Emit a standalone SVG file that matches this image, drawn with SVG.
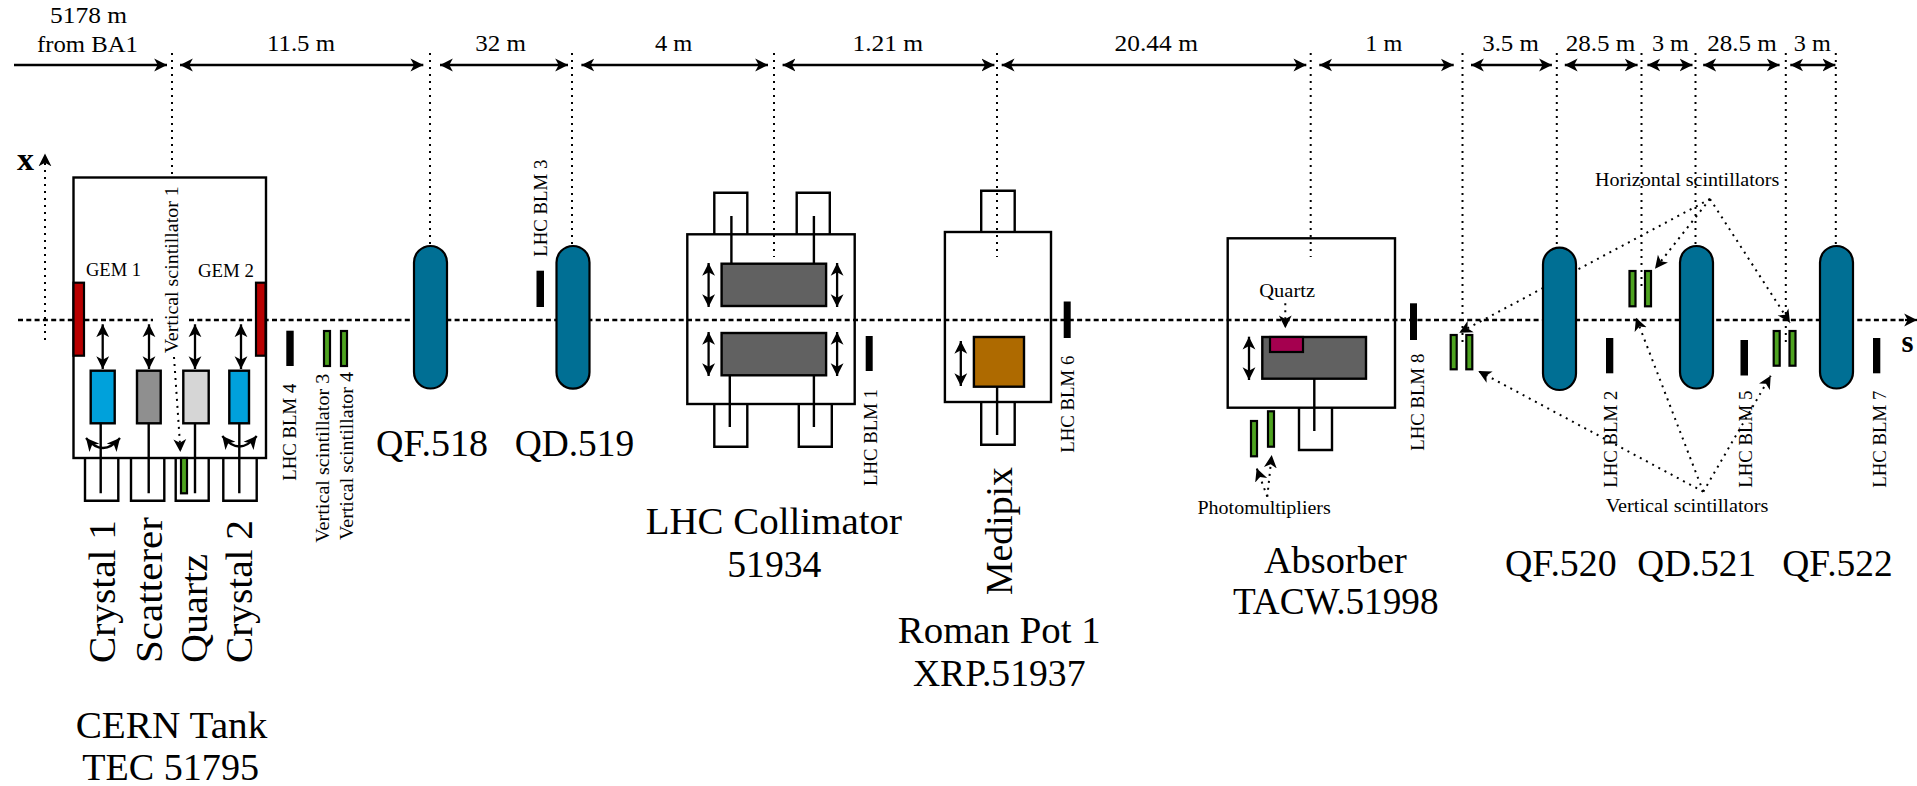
<svg xmlns="http://www.w3.org/2000/svg" width="1917" height="786" viewBox="0 0 1917 786">
<style>
text{font-family:"Liberation Serif","Times New Roman",serif;fill:#000}
.d{font-size:23px}.b{font-size:37px}.s{font-size:18px}.a{font-size:32px;font-weight:bold}
.l{fill:none;stroke:#000;stroke-width:2.3}
.o{fill:none;stroke:#000;stroke-width:2.4}
.t{fill:none;stroke:#000;stroke-width:2;stroke-dasharray:2 5}
.bm{fill:none;stroke:#000;stroke-width:2.3;stroke-dasharray:5 3.3}
.p{fill:#006f94;stroke:#000;stroke-width:2.2}
.g{fill:#4ea320;stroke:#000;stroke-width:2.2}
.k{fill:#000;stroke:none}
.j{fill:#616161;stroke:#000;stroke-width:2.4}
.w{marker-end:url(#h)}.ww{marker-start:url(#h);marker-end:url(#h)}
</style>
<defs>
<marker id="h" markerUnits="userSpaceOnUse" markerWidth="14" markerHeight="14" refX="11" refY="6" orient="auto-start-reverse" viewBox="0 0 12 12"><path d="M11,6 L0,0.5 L3,6 L0,11.5 Z" fill="#000"/></marker>
</defs>
<rect width="1917" height="786" fill="#fff"/>
<g id="connectors">
<path class="bm" d="M18,320H153"/>
<path class="bm" d="M189,320H1906"/>
<path d="M1905,320H1917" class="l w"/>
<path class="t w" d="M45,340V153.5"/>
<g class="t">
<path d="M172,53V177"/><path d="M430,53V246"/><path d="M572,53V246"/><path d="M774,53V257"/><path d="M997,53V257"/><path d="M1310.7,53V257"/><path d="M1462.5,53V343"/><path d="M1556.8,53V246"/><path d="M1641.5,53V286"/><path d="M1695.5,53V246"/><path d="M1785.8,53V343"/><path d="M1835.8,53V246"/>
</g>
<g class="l">
<path class="w" d="M14,65H167"/>
<path class="ww" d="M180,65H423.3"/>
<path class="ww" d="M440,65H568"/>
<path class="ww" d="M581.4,65H768"/>
<path class="ww" d="M782.6,65H994.4"/>
<path class="ww" d="M1001.7,65H1306.3"/>
<path class="ww" d="M1319.3,65H1453.7"/>
<path class="ww" d="M1471,65H1551.9"/>
<path class="ww" d="M1564.8,65H1637.6"/>
<path class="ww" d="M1647.4,65H1692.5"/>
<path class="ww" d="M1703.2,65H1779.6"/>
<path class="ww" d="M1790.3,65H1835.4"/>
<path class="ww" d="M102.7,324.3V369"/><path class="ww" d="M149,324.3V369"/><path class="ww" d="M195,324.3V369"/><path class="ww" d="M241,324.3V369"/>
<path class="ww" d="M86,438Q103,458 120,438"/>
<path class="ww" d="M222.3,436Q239.5,457 256.7,436"/>
<path class="ww" d="M708.6,263V307"/><path class="ww" d="M837.1,263V307"/><path class="ww" d="M708.6,332V376"/><path class="ww" d="M837.1,332V376"/>
<path class="ww" d="M960.8,341V386"/>
<path class="ww" d="M1249,336.7V380"/>
</g>
<g class="t">
<path class="w" d="M174,357L180,444L180.3,452"/>
<path class="w" d="M1285.3,303.3V328.3"/>
<path class="w" d="M1267.3,496.7L1256.7,468.3"/>
<path class="w" d="M1267.3,496.7L1271.7,455"/>
<path class="w" d="M1710,199L1459.3,332.7"/>
<path class="w" d="M1710,199L1655,268.7"/>
<path class="w" d="M1710,199L1790,322.7"/>
<path class="w" d="M1703.3,491.7L1478.3,371"/>
<path class="w" d="M1703.3,491.7L1636,317.7"/>
<path class="w" d="M1703.3,491.7L1770.7,375.7"/>
</g>
</g>
<g id="cern-tank">
<rect class="o" x="73.5" y="177.5" width="192.5" height="280.5"/>
<rect x="73.5" y="282.7" width="10.5" height="73" fill="#b80000" stroke="#000" stroke-width="2.2"/>
<rect x="256" y="282.7" width="9.5" height="73" fill="#b80000" stroke="#000" stroke-width="2.2"/>
<g class="o">
<path d="M100.7,423V493.3M148.7,423V493.3M195,423V493.3M239.3,423V493.3"/>
<path d="M85,458V500.7H118.3V458M131,458V500.7H164.3V458M175.7,458V500.7H208.7V458M223.3,458V500.7H256.7V458"/>
</g>
<rect x="90.7" y="370.7" width="24" height="52.6" fill="#00a1db" stroke="#000" stroke-width="2.4"/>
<rect x="137" y="370.7" width="23.7" height="52.6" fill="#8f8f8f" stroke="#000" stroke-width="2.4"/>
<rect x="183.3" y="370.7" width="25.4" height="52.6" fill="#d6d6d6" stroke="#000" stroke-width="2.4"/>
<rect x="229.3" y="370.7" width="19.7" height="52.6" fill="#00a1db" stroke="#000" stroke-width="2.4"/>
<rect class="g" x="181" y="458" width="6" height="35.3"/>
</g>
<g id="blm4"><rect class="k" x="286.3" y="330.7" width="7.4" height="35.3"/></g>
<g id="vs3"><rect class="g" x="324" y="331" width="6" height="35"/></g>
<g id="vs4"><rect class="g" x="341" y="331" width="6" height="35"/></g>
<g id="qf518"><rect class="p" x="414" y="246" width="33" height="142.5" rx="16.5"/></g>
<g id="blm3"><rect class="k" x="536.5" y="270.7" width="7.5" height="36.3"/></g>
<g id="qd519"><rect class="p" x="556.5" y="246" width="33" height="142.7" rx="16.5"/></g>
<g id="collimator">
<rect class="o" x="687.3" y="234.3" width="167.4" height="169.7"/>
<g class="o">
<path d="M714.3,234V192.7H747.3V234M796.7,234V192.7H829.8V234"/>
<path d="M714.3,404V446.7H747.3V404M798.8,404V446.7H831.8V404"/>
<path d="M731.4,216V263.7M813.9,216V263.7M729.8,375V427M813.9,375V427"/>
</g>
<rect class="j" x="721.6" y="263.7" width="104.5" height="42.3"/>
<rect class="j" x="721.6" y="333" width="104.5" height="42.3"/>
</g>
<g id="blm1"><rect class="k" x="865.7" y="336" width="7" height="35"/></g>
<g id="roman-pot">
<rect class="o" x="944.9" y="232" width="106.1" height="170"/>
<g class="o">
<path d="M981.2,232V190.7H1014.7V232M981.2,402V444.7H1014.7V402"/>
<path d="M997.1,386V435"/>
</g>
<rect x="973.9" y="337" width="50.1" height="49.7" fill="#ae6a00" stroke="#000" stroke-width="2.4"/>
</g>
<g id="blm6"><rect class="k" x="1063.7" y="301.5" width="7" height="36.5"/></g>
<g id="absorber">
<rect class="o" x="1227.7" y="238.3" width="167.3" height="169.4"/>
<path class="o" d="M1314.3,378.7V431M1299,407.7V450H1332V407.7"/>
<rect class="j" x="1262.3" y="337" width="103.7" height="41.7"/>
<rect x="1270" y="337" width="33" height="15" fill="#a5004f" stroke="#000" stroke-width="2.2"/>
<rect class="g" x="1251" y="421" width="6" height="35.3"/>
<rect class="g" x="1268" y="411.3" width="6" height="35.4"/>
</g>
<g id="blm8"><rect class="k" x="1410" y="303.3" width="7" height="36.7"/></g>
<g id="scint-a"><rect class="g" x="1450.7" y="335" width="6" height="34.3"/><rect class="g" x="1466.3" y="335" width="6" height="34.3"/></g>
<g id="qf520"><rect class="p" x="1543" y="247.7" width="33" height="142.3" rx="16.5"/></g>
<g id="blm2"><rect class="k" x="1606" y="338" width="7.3" height="35.3"/></g>
<g id="scint-b"><rect class="g" x="1629.5" y="271" width="6" height="35.3"/><rect class="g" x="1645" y="271" width="6" height="35.3"/></g>
<g id="qd521"><rect class="p" x="1680" y="246" width="33" height="142.5" rx="16.5"/></g>
<g id="blm5"><rect class="k" x="1740.5" y="340" width="7.5" height="35.5"/></g>
<g id="scint-c"><rect class="g" x="1773.7" y="331" width="6" height="34.7"/><rect class="g" x="1789.5" y="331" width="6" height="34.7"/></g>
<g id="qf522"><rect class="p" x="1820" y="246" width="33" height="142.5" rx="16.5"/></g>
<g id="blm7"><rect class="k" x="1873" y="338" width="7.3" height="35.3"/></g>
<g id="labels">
<text class="d" x="50" y="23" textLength="77" lengthAdjust="spacingAndGlyphs">5178 m</text>
<text class="d" x="37" y="52" textLength="101" lengthAdjust="spacingAndGlyphs">from BA1</text>
<text class="d" x="267" y="51" textLength="68" lengthAdjust="spacingAndGlyphs">11.5 m</text>
<text class="d" x="475.3" y="51" textLength="50.7" lengthAdjust="spacingAndGlyphs">32 m</text>
<text class="d" x="655" y="51" textLength="37.4" lengthAdjust="spacingAndGlyphs">4 m</text>
<text class="d" x="852.4" y="51" textLength="70.8" lengthAdjust="spacingAndGlyphs">1.21 m</text>
<text class="d" x="1114.6" y="51" textLength="83.3" lengthAdjust="spacingAndGlyphs">20.44 m</text>
<text class="d" x="1365.3" y="51" textLength="37" lengthAdjust="spacingAndGlyphs">1 m</text>
<text class="d" x="1482.2" y="51" textLength="56.7" lengthAdjust="spacingAndGlyphs">3.5 m</text>
<text class="d" x="1565.7" y="51" textLength="69.7" lengthAdjust="spacingAndGlyphs">28.5 m</text>
<text class="d" x="1651.9" y="51" textLength="37" lengthAdjust="spacingAndGlyphs">3 m</text>
<text class="d" x="1707.2" y="51" textLength="69.7" lengthAdjust="spacingAndGlyphs">28.5 m</text>
<text class="d" x="1793.8" y="51" textLength="37" lengthAdjust="spacingAndGlyphs">3 m</text>
<text class="a" x="17" y="170" textLength="17" lengthAdjust="spacingAndGlyphs">x</text>
<text class="a" x="1901.5" y="351.5" textLength="12" lengthAdjust="spacingAndGlyphs">s</text>
<text class="s" x="86" y="276.3" textLength="55" lengthAdjust="spacingAndGlyphs">GEM 1</text>
<text class="s" x="198" y="277" textLength="56" lengthAdjust="spacingAndGlyphs">GEM 2</text>
<text class="s" transform="translate(178.3 353.3) rotate(-90)" textLength="167" lengthAdjust="spacingAndGlyphs">Vertical scintillator 1</text>
<text class="s" transform="translate(296 480.7) rotate(-90)" textLength="97" lengthAdjust="spacingAndGlyphs">LHC BLM 4</text>
<text class="s" transform="translate(329.3 542.7) rotate(-90)" textLength="169" lengthAdjust="spacingAndGlyphs">Vertical scintillator 3</text>
<text class="s" transform="translate(352.7 540) rotate(-90)" textLength="168" lengthAdjust="spacingAndGlyphs">Vertical scintillator 4</text>
<text class="s" transform="translate(546.5 256.7) rotate(-90)" textLength="97" lengthAdjust="spacingAndGlyphs">LHC BLM 3</text>
<text class="s" transform="translate(876.7 486) rotate(-90)" textLength="97" lengthAdjust="spacingAndGlyphs">LHC BLM 1</text>
<text class="s" transform="translate(1073.9 452.7) rotate(-90)" textLength="97" lengthAdjust="spacingAndGlyphs">LHC BLM 6</text>
<text class="s" transform="translate(1424.3 450.7) rotate(-90)" textLength="97" lengthAdjust="spacingAndGlyphs">LHC BLM 8</text>
<text class="s" transform="translate(1616.7 487.7) rotate(-90)" textLength="97" lengthAdjust="spacingAndGlyphs">LHC BLM 2</text>
<text class="s" transform="translate(1752.3 487.7) rotate(-90)" textLength="97" lengthAdjust="spacingAndGlyphs">LHC BLM 5</text>
<text class="s" transform="translate(1885.7 487.7) rotate(-90)" textLength="97" lengthAdjust="spacingAndGlyphs">LHC BLM 7</text>
<text class="s" x="1259.3" y="296.7" textLength="55.7" lengthAdjust="spacingAndGlyphs">Quartz</text>
<text class="s" x="1197.5" y="514.3" textLength="133.3" lengthAdjust="spacingAndGlyphs">Photomultipliers</text>
<text class="s" x="1595" y="185.7" textLength="184.3" lengthAdjust="spacingAndGlyphs">Horizontal scintillators</text>
<text class="s" x="1605.7" y="512.3" textLength="162.6" lengthAdjust="spacingAndGlyphs">Vertical scintillators</text>
<text class="b" transform="translate(115 663) rotate(-90)" textLength="143" lengthAdjust="spacingAndGlyphs">Crystal 1</text>
<text class="b" transform="translate(162.3 663) rotate(-90)" textLength="146" lengthAdjust="spacingAndGlyphs">Scatterer</text>
<text class="b" transform="translate(206.7 663) rotate(-90)" textLength="109" lengthAdjust="spacingAndGlyphs">Quartz</text>
<text class="b" transform="translate(251.7 663) rotate(-90)" textLength="143" lengthAdjust="spacingAndGlyphs">Crystal 2</text>
<text class="b" x="75.7" y="737.7" textLength="191.6" lengthAdjust="spacingAndGlyphs">CERN Tank</text>
<text class="b" x="82.3" y="780" textLength="176.7" lengthAdjust="spacingAndGlyphs">TEC 51795</text>
<text class="b" x="376" y="456" textLength="112" lengthAdjust="spacingAndGlyphs">QF.518</text>
<text class="b" x="514.7" y="456" textLength="119.6" lengthAdjust="spacingAndGlyphs">QD.519</text>
<text class="b" x="645.7" y="534" textLength="256.3" lengthAdjust="spacingAndGlyphs">LHC Collimator</text>
<text class="b" x="727.3" y="576.7" textLength="94.1" lengthAdjust="spacingAndGlyphs">51934</text>
<text class="b" transform="translate(1011.8 595) rotate(-90)" textLength="128" lengthAdjust="spacingAndGlyphs">Medipix</text>
<text class="b" x="897.8" y="642.7" textLength="202.9" lengthAdjust="spacingAndGlyphs">Roman Pot 1</text>
<text class="b" x="912.9" y="685.7" textLength="172.6" lengthAdjust="spacingAndGlyphs">XRP.51937</text>
<text class="b" x="1263.9" y="572.7" textLength="142.8" lengthAdjust="spacingAndGlyphs">Absorber</text>
<text class="b" x="1233" y="614" textLength="205.6" lengthAdjust="spacingAndGlyphs">TACW.51998</text>
<text class="b" x="1505" y="576" textLength="111.7" lengthAdjust="spacingAndGlyphs">QF.520</text>
<text class="b" x="1637.3" y="576" textLength="118.7" lengthAdjust="spacingAndGlyphs">QD.521</text>
<text class="b" x="1782.3" y="576" textLength="110.4" lengthAdjust="spacingAndGlyphs">QF.522</text>
</g>
</svg>
